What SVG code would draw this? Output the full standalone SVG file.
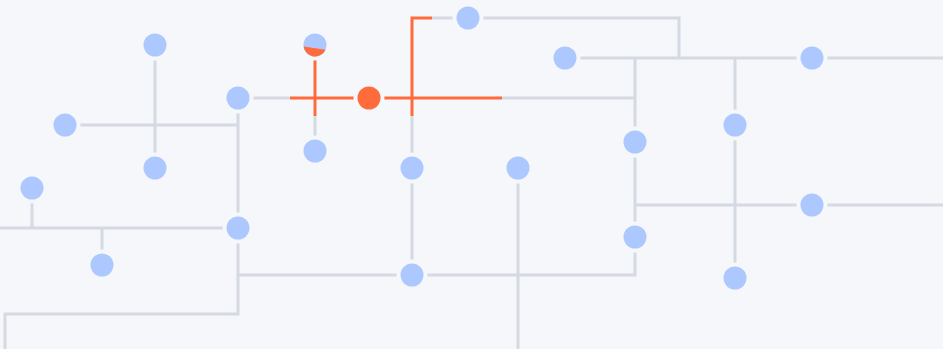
<svg xmlns="http://www.w3.org/2000/svg" width="943" height="349" viewBox="0 0 943 349">
  <style>
    .wire { fill: none; stroke: #d5d9e1; stroke-width: 3; }
    .hot { fill: none; stroke: #ff6b3a; stroke-width: 3; }
    .node { fill: #adc8ff; stroke: #f5f7fb; stroke-width: 8; paint-order: stroke; }
    .node.on { fill: #ff6b3a; }
  </style>
  <rect width="943" height="349" fill="#f5f7fb"/>

  <g id="connectors">
    <!-- grey trace network -->
    <path class="wire" d="M155 45 V168"/>
    <path class="wire" d="M65 125 H238"/>
    <path class="wire" d="M238 98 V314 H5 V349"/>
    <path class="wire" d="M0 228 H238"/>
    <path class="wire" d="M32 188 V228"/>
    <path class="wire" d="M102 228 V265"/>
    <path class="wire" d="M238 98 H290"/>
    <path class="wire" d="M502 98 H635"/>
    <path class="wire" d="M315 116 V151"/>
    <path class="wire" d="M412 116 V275"/>
    <path class="wire" d="M238 275 H635 V58"/>
    <path class="wire" d="M518 168 V349"/>
    <path class="wire" d="M565 58 H943"/>
    <path class="wire" d="M432 18 H679 V58"/>
    <path class="wire" d="M735 58 V278"/>
    <path class="wire" d="M635 205 H943"/>
    <!-- highlighted path -->
    <path class="hot" d="M315 60 V116"/>
    <path class="hot" d="M290 98 H502"/>
    <path class="hot" d="M412 116 V18 H432"/>
  </g>

  <g id="n1"><circle class="node" cx="155" cy="45" r="11.5"/></g>
  <g id="n2"><circle class="node" cx="65" cy="125" r="11.5"/></g>
  <g id="n3"><circle class="node" cx="155" cy="168" r="11.5"/></g>
  <g id="n4"><circle class="node" cx="238" cy="98" r="11.5"/></g>
  <g id="n5"><circle class="node" cx="32" cy="188" r="11.5"/></g>
  <g id="n6"><circle class="node" cx="238" cy="228" r="11.5"/></g>
  <g id="n7"><circle class="node" cx="102" cy="265" r="11.5"/></g>
  <g id="n8">
    <circle class="node" cx="315" cy="45" r="11.5"/>
    <path d="M303.6 46.5 A11.5 11.5 0 0 0 325.5 49.7 Z" fill="#ff6b3a"/>
  </g>
  <g id="n9"><circle class="node" cx="315" cy="151" r="11.5"/></g>
  <g id="n10"><circle class="node on" cx="369" cy="98" r="11.5"/></g>
  <g id="n11"><circle class="node" cx="468" cy="18" r="11.5"/></g>
  <g id="n12"><circle class="node" cx="412" cy="168" r="11.5"/></g>
  <g id="n13"><circle class="node" cx="518" cy="168" r="11.5"/></g>
  <g id="n14"><circle class="node" cx="412" cy="275" r="11.5"/></g>
  <g id="n15"><circle class="node" cx="565" cy="58" r="11.5"/></g>
  <g id="n16"><circle class="node" cx="812" cy="58" r="11.5"/></g>
  <g id="n17"><circle class="node" cx="635" cy="142" r="11.5"/></g>
  <g id="n18"><circle class="node" cx="735" cy="125" r="11.5"/></g>
  <g id="n19"><circle class="node" cx="812" cy="205" r="11.5"/></g>
  <g id="n20"><circle class="node" cx="635" cy="237" r="11.5"/></g>
  <g id="n21"><circle class="node" cx="735" cy="278" r="11.5"/></g>
</svg>
